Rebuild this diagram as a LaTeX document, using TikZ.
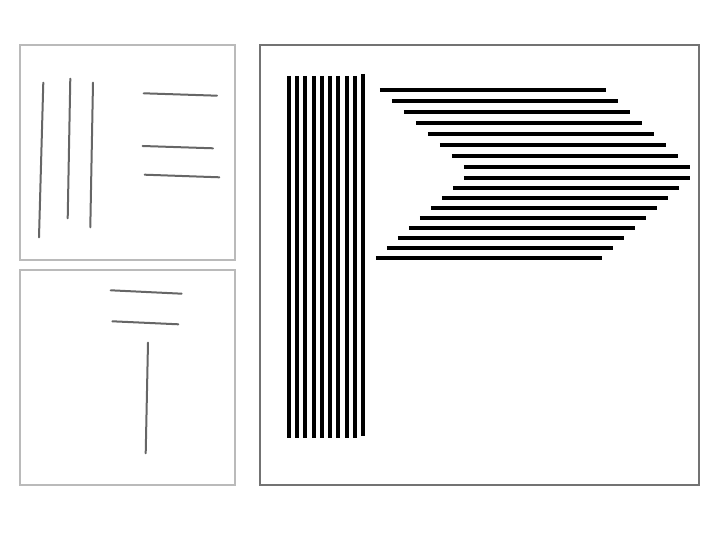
\documentclass[tikz,border=0pt]{standalone}
\usepackage{tikz}

\begin{document}
\begin{tikzpicture}[
        x=0.5pt, y=-0.5pt,
        panel/.style={draw=black!27, line width=1pt},
        bigpanel/.style={draw=black!55, line width=1pt},
        sketch/.style={draw=black!60, line width=1pt, line cap=round},
        vbar/.style={draw=black, line width=2pt},
        hbar/.style={draw=black, line width=2pt}
    ]

    \useasboundingbox (0,0) rectangle (720,540);

    % ---- PANEL 1: three vertical and three horizontal strokes ----
    \begin{scope}
        \draw[panel] (20,45) rectangle (235,260);

        \draw[sketch] (43.3,82.7) -- (39,237.3);
        \draw[sketch] (70.3,78.7) -- (67.7,218.3);
        \draw[sketch] (93,82.7) -- (90.3,227.3);

        \draw[sketch] (143.7,93.3) -- (217,95.7);
        \draw[sketch] (142.7,146) -- (213,148.3);
        \draw[sketch] (144.7,174.7) -- (219.3,177.3);
    \end{scope}

    % ---- PANEL 2: two horizontal strokes over a vertical one ----
    \begin{scope}
        \draw[panel] (20,270) rectangle (235,485);

        \draw[sketch] (110.7,290.3) -- (181.7,293.7);
        \draw[sketch] (112.3,321.3) -- (178.3,324.3);
        \draw[sketch] (148,342.7) -- (145.7,453.3);
    \end{scope}

    % ---- BIG PANEL: bar patterns ----
    \begin{scope}
        \draw[bigpanel] (260,45) rectangle (699.5,485);

        % vertical bars
        \foreach \i in {0,...,8}
            \draw[vbar] (289+8.22*\i,76) -- (289+8.22*\i,437.7);
        \draw[vbar] (363,74) -- (363,435.6);

        % horizontal bars, upper half shifts right
        \foreach \i in {0,...,7}
            \draw[hbar] (380+12*\i,90+11*\i) -- (606+12*\i,90+11*\i);

        % horizontal bars, lower half shifts back left
        \foreach \i in {0,...,8}
            \draw[hbar] (464-11*\i,177.7+10*\i) -- (690-11*\i,177.7+10*\i);
    \end{scope}

\end{tikzpicture}
\end{document}
